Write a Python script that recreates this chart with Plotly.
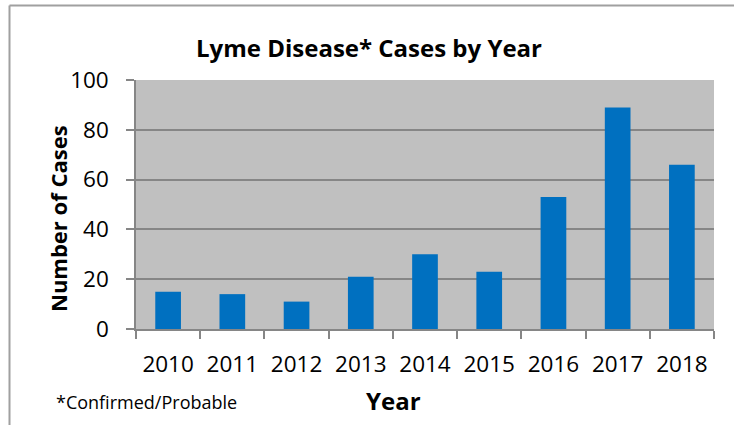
import plotly.graph_objects as go

years = ["2010", "2011", "2012", "2013", "2014", "2015", "2016", "2017", "2018"]
cases = [15, 14, 11, 21, 30, 23, 53, 89, 66]
y_ticks = [0, 20, 40, 60, 80, 100]

FONT = "Open Sans"
L, R, T, B = 136, 20, 80, 96
W, H = 734, 425
pw, ph = W - L - R, H - T - B

def px(x):
    return (x - L) / pw

def py(y):
    return 1 - (y - T) / ph

fig = go.Figure(go.Bar(x=years, y=cases, marker_color="#0070C0", marker_line_width=0))

fig.update_layout(
    width=W, height=H,
    margin=dict(l=L, r=R, t=T, b=B),
    paper_bgcolor="white",
    plot_bgcolor="#C0C0C0",
    bargap=0.6,
    showlegend=False,
    font=dict(family=FONT, color="black"),
)
fig.update_yaxes(
    range=[0, 100], tickvals=y_ticks, showgrid=True, gridcolor="#868686", gridwidth=1.5,
    showline=True, linecolor="#868686", linewidth=1.5, ticks="outside", ticklen=8,
    tickcolor="#868686", tickwidth=1.5, tickfont=dict(size=22.5), ticklabelstandoff=13,
    zeroline=False, fixedrange=True,
)
fig.update_xaxes(
    showline=True, linecolor="#868686", linewidth=1.5, ticks="outside", ticklen=8,
    tickcolor="#868686", tickwidth=1.5, tickson="boundaries", tickfont=dict(size=22.5),
    ticklabelstandoff=14, showgrid=False,
)
annotations = [
    dict(text="<b>Lyme Disease* Cases by Year</b>", x=px(369), y=py(48), font=dict(size=24)),
    dict(text="<b>Number of Cases</b>", x=px(58), y=py(218), textangle=-90, font=dict(size=22)),
    dict(text="<b>Year</b>", x=px(393), y=py(400), font=dict(size=24)),
    dict(text="*Confirmed/Probable", x=px(146), y=py(402), font=dict(size=18)),
]
for a in annotations:
    a.update(xref="paper", yref="paper", showarrow=False, xanchor="center", yanchor="middle")
fig.update_layout(annotations=annotations)

fig.update_layout(shapes=[
    dict(type="line", xref="paper", yref="paper", x0=px(9.5), x1=px(734), y0=py(5.5), y1=py(5.5),
         line=dict(color="#A0A0A0", width=2)),
    dict(type="line", xref="paper", yref="paper", x0=px(9.5), x1=px(9.5), y0=py(5.5), y1=py(425),
         line=dict(color="#A0A0A0", width=2)),
])

fig.write_html("out.html", config={"displayModeBar": False},
               post_script="document.body.style.margin='0';")
